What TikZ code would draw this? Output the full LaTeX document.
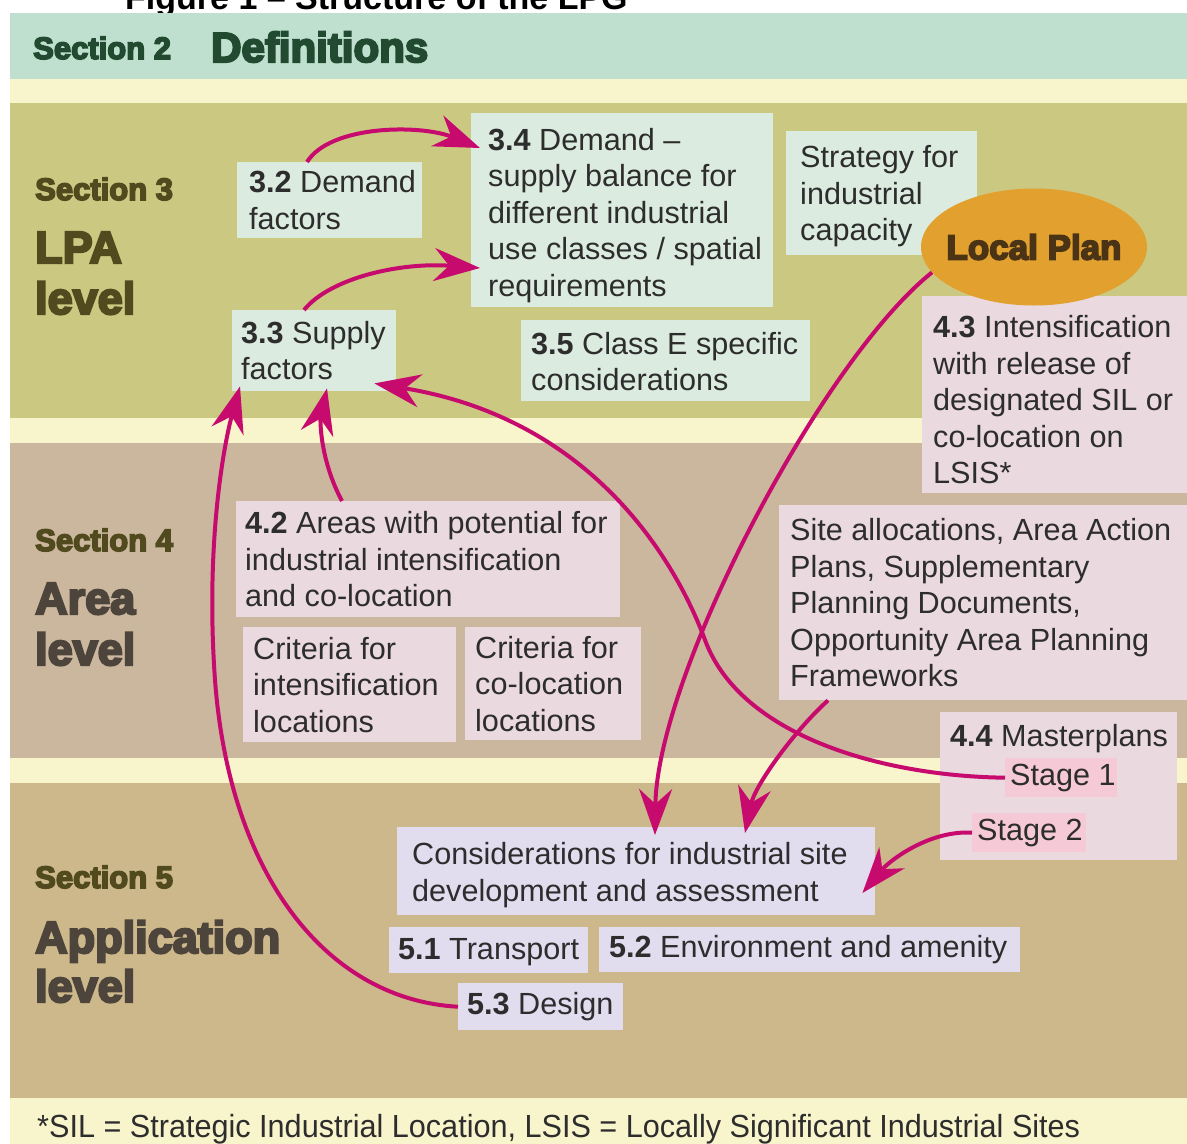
\documentclass[tikz,border=0pt]{standalone}
\usepackage{fontspec}
\setmainfont{Liberation Sans}
\newfontfamily\heavy{Liberation Sans}[UprightFeatures={FakeBold=5},BoldFeatures={FakeBold=5}]
\usetikzlibrary{arrows.meta,shapes.geometric,calc}
\definecolor{sectwo}{HTML}{BFE0CE}
\definecolor{cream}{HTML}{F8F4CB}
\definecolor{olive}{HTML}{CBC882}
\definecolor{tanband}{HTML}{CBB79D}
\definecolor{khaki}{HTML}{CCB88A}
\definecolor{mint}{HTML}{DCEBDF}
\definecolor{pinkbox}{HTML}{EAD9DF}
\definecolor{stagepink}{HTML}{F5C9D5}
\definecolor{lav}{HTML}{E1DCEE}
\definecolor{orng}{HTML}{E2A02F}
\definecolor{mag}{HTML}{C70A6E}
\definecolor{txt}{HTML}{2D2D2D}
\definecolor{dgreen}{HTML}{214A30}
\definecolor{dolive}{HTML}{514A1E}
\definecolor{dbrown}{HTML}{4D443C}
\definecolor{lpbrown}{HTML}{4A3415}
\newcommand\bodyfont{\fontsize{30.6}{36.5}\selectfont}
% name, fill, x, y, w, h, left padding, shift down, text
\newcommand\tbox[9]{%
  \node[boxbg, fill=#2, minimum width=#5pt, minimum height=#6pt] (#1) at (#3,#4) {};
  \node[txtnode] (#1t) at ([xshift=#7pt,yshift=-#8pt]#1.west) {#9};}
\begin{document}
\begin{tikzpicture}[x=1pt,y=-1pt,
  boxbg/.style={rectangle, anchor=north west, inner sep=0pt, draw=none},
  txtnode/.style={anchor=west, align=left, inner sep=0pt, font=\bodyfont, text=txt},
  conn/.style={draw=mag, line width=4pt, -{Stealth[length=46pt,width=33pt,inset=15pt]}},
  seclab/.style={anchor=base west, inner sep=0pt, font=\heavy\bfseries\fontsize{31}{31}\selectfont},
  lvllab/.style={anchor=base west, inner sep=0pt, font=\heavy\bfseries\fontsize{45}{51}\selectfont}]
\useasboundingbox (0,0) rectangle (1187,1144);
% title (cut off at the top, as in the original)
\node[anchor=base west, inner sep=0pt, font=\bfseries\fontsize{34}{34}\selectfont] (title) at (125,9) {Figure 1 -- Structure of the LPG};
% bands
\fill[sectwo] (10,13) rectangle (1187,79);
\fill[cream] (10,79) rectangle (1187,103);
\fill[olive] (10,103) rectangle (1187,418);
\fill[cream] (10,418) rectangle (1187,443);
\fill[tanband] (10,443) rectangle (1187,758);
\fill[cream] (10,758) rectangle (1187,783);
\fill[khaki] (10,783) rectangle (1187,1098);
\fill[cream] (10,1098) rectangle (1187,1144);
% section labels
\node[seclab, text=dgreen] (l2) at (33,59) {Section 2};
\node[lvllab, text=dgreen, font=\heavy\bfseries\fontsize{42}{42}\selectfont] (l2b) at (211,62) {Definitions};
\node[seclab, text=dolive] (l3) at (35,200) {Section 3};
\node[lvllab, text=dolive] (l3b) at (35,263) {LPA};
\node[lvllab, text=dolive] (l3c) at (35,314) {level};
\node[seclab, text=dolive] (l4) at (35,551) {Section 4};
\node[lvllab, text=dbrown] (l4b) at (35,614) {Area};
\node[lvllab, text=dbrown] (l4c) at (35,665) {level};
\node[seclab, text=dolive] (l5) at (35,888) {Section 5};
\node[lvllab, text=dbrown] (l5b) at (35,953) {Application};
\node[lvllab, text=dbrown] (l5c) at (35,1002) {level};
% section 3 boxes
\tbox{b32}{mint}{237}{162}{185}{76}{12}{0}{\textbf{3.2} Demand\\factors}
\tbox{b34}{mint}{471}{113}{302}{194}{17}{5}{\textbf{3.4} Demand --\\supply balance for\\different industrial\\use classes / spatial\\requirements}
\tbox{bstr}{mint}{786}{131}{191}{124}{14}{3}{Strategy for\\industrial\\capacity}
\tbox{b33}{mint}{232}{310}{164}{81}{9}{0}{\textbf{3.3} Supply\\factors}
\tbox{b35}{mint}{521}{320}{289}{81}{10}{1}{\textbf{3.5} Class E specific\\considerations}
% section 4 boxes
\tbox{b43}{pinkbox}{922}{296}{265}{197}{11}{5}{\textbf{4.3} Intensification\\with release of\\designated SIL or\\co-location on\\LSIS*}
\node[ellipse, fill=orng, minimum width=226pt, minimum height=117pt, inner sep=0pt, text=lpbrown, font=\heavy\bfseries\fontsize{35}{35}\selectfont] (lp) at (1034,247) {\makebox[0pt]{Local Plan}};
\tbox{b42}{pinkbox}{236}{501}{384}{116}{9}{0}{\textbf{4.2} Areas with potential for\\industrial intensification\\and co-location}
\tbox{bci}{pinkbox}{243}{627}{213}{115}{10}{0}{Criteria for\\intensification\\locations}
\tbox{bcc}{pinkbox}{465}{627}{176}{113}{10}{0}{Criteria for\\co-location\\locations}
\tbox{bsite}{pinkbox}{779}{505}{408}{195}{11}{0}{Site allocations, Area Action\\Plans, Supplementary\\Planning Documents,\\Opportunity Area Planning\\Frameworks}
\node[boxbg, fill=pinkbox, minimum width=237pt, minimum height=148pt] (b44) at (940,712) {};
\node[anchor=base west, inner sep=0pt, font=\bodyfont, text=txt] (b44t) at (950,746) {\textbf{4.4} Masterplans};
\tbox{s1}{stagepink}{1005}{758}{112}{39}{5}{0}{Stage 1}
\tbox{s2}{stagepink}{972}{813}{114}{39}{5}{0}{Stage 2}
% section 5 boxes
\tbox{bcons}{lav}{397}{827}{478}{88}{15}{4}{Considerations for industrial site\\development and assessment}
\tbox{b51}{lav}{389}{927}{199}{46}{9}{2}{\textbf{5.1} Transport}
\tbox{b52}{lav}{599}{927}{421}{45}{10}{0}{\textbf{5.2} Environment and amenity}
\tbox{b53}{lav}{458}{983}{165}{47}{9}{0}{\textbf{5.3} Design}
% footnote
\node[anchor=base west, inner sep=0pt, text=txt] (foot) at (37,1137) {\resizebox{1043pt}{\height}{\fontsize{32}{36}\selectfont *SIL = Strategic Industrial Location, LSIS = Locally Significant Industrial Sites}};
% connectors
\draw[conn] ([xshift=70pt]b32.north west) .. controls (330,125) and (420,124) .. ([xshift=9pt,yshift=-35pt]b34.north west);
\draw[conn] ([xshift=72pt]b33.north west) .. controls (330,278) and (400,262) .. ([xshift=9pt,yshift=-155pt]b34.north west);
\draw[conn] ([xshift=106pt]b42.north west) .. controls (320,460) and (320,420) .. ([xshift=95pt,yshift=3pt]b33.south west);
\draw[conn] (b53.west) .. controls (330,1000) and (230,880) .. (215,680) .. controls (205,540) and (225,440) .. ([xshift=8pt,yshift=5pt]b33.south west);
\draw[conn] (s1.west) .. controls (880,776) and (740,735) .. (705,640) .. controls (680,572) and (600,420) .. ([xshift=-22pt,yshift=8pt]b33.south east);
\draw[conn] (lp.194) .. controls (822,360) and (657,674) .. ([xshift=258pt,yshift=-8pt]bcons.north west);
\draw[conn] ([xshift=49pt]bsite.south west) .. controls (795,730) and (755,785) .. ([xshift=348pt,yshift=-6pt]bcons.north west);
\draw[conn] (s2.west) .. controls (930,830) and (890,860) .. ([xshift=-13pt,yshift=-66pt]bcons.north east);
\end{tikzpicture}
\end{document}
